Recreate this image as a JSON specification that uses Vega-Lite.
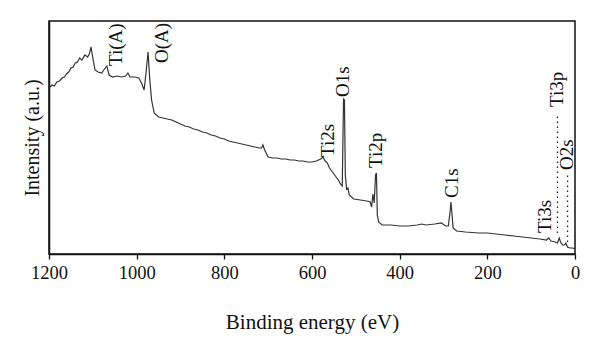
{
  "$schema": "https://vega.github.io/schema/vega-lite/v6.json",
  "width": 526,
  "height": 233,
  "autosize": {"type": "none"},
  "padding": {"left": 49, "top": 21, "right": 25, "bottom": 98},
  "background": "white",
  "view": {"stroke": "#111", "strokeWidth": 1.5},
  "config": {
    "font": "Liberation Serif",
    "axis": {"domainColor": "#111", "domainWidth": 1.5, "tickColor": "#111", "grid": false}
  },
  "datasets": {
    "spectrum": [
      {"be": 1198, "i": 167}, {"be": 1193, "i": 169}, {"be": 1188, "i": 168}, {"be": 1182, "i": 172},
      {"be": 1176, "i": 173}, {"be": 1170, "i": 176}, {"be": 1165, "i": 177}, {"be": 1160, "i": 180},
      {"be": 1155, "i": 182}, {"be": 1150, "i": 186}, {"be": 1145, "i": 187}, {"be": 1140, "i": 191},
      {"be": 1135, "i": 192}, {"be": 1130, "i": 196}, {"be": 1125, "i": 194}, {"be": 1118, "i": 199},
      {"be": 1112, "i": 197}, {"be": 1108, "i": 200}, {"be": 1104, "i": 207}, {"be": 1100, "i": 196},
      {"be": 1095, "i": 184}, {"be": 1088, "i": 182}, {"be": 1080, "i": 181}, {"be": 1075, "i": 184},
      {"be": 1068, "i": 188}, {"be": 1063, "i": 179}, {"be": 1055, "i": 177}, {"be": 1045, "i": 178},
      {"be": 1035, "i": 177}, {"be": 1025, "i": 178}, {"be": 1020, "i": 181}, {"be": 1015, "i": 177},
      {"be": 1005, "i": 177}, {"be": 995, "i": 176}, {"be": 988, "i": 170}, {"be": 983, "i": 164},
      {"be": 978, "i": 184}, {"be": 974, "i": 202}, {"be": 970, "i": 174}, {"be": 966, "i": 154},
      {"be": 960, "i": 141}, {"be": 950, "i": 137}, {"be": 940, "i": 136}, {"be": 930, "i": 135},
      {"be": 920, "i": 134}, {"be": 910, "i": 132}, {"be": 900, "i": 130}, {"be": 890, "i": 128},
      {"be": 880, "i": 127}, {"be": 870, "i": 125}, {"be": 860, "i": 124}, {"be": 850, "i": 122},
      {"be": 840, "i": 121}, {"be": 830, "i": 119}, {"be": 820, "i": 118}, {"be": 810, "i": 116},
      {"be": 800, "i": 115}, {"be": 790, "i": 113}, {"be": 780, "i": 112}, {"be": 770, "i": 111},
      {"be": 760, "i": 110}, {"be": 750, "i": 109}, {"be": 740, "i": 108}, {"be": 730, "i": 107},
      {"be": 720, "i": 106}, {"be": 715, "i": 106}, {"be": 712, "i": 109}, {"be": 708, "i": 104},
      {"be": 700, "i": 97}, {"be": 690, "i": 96}, {"be": 680, "i": 96}, {"be": 670, "i": 95},
      {"be": 660, "i": 95}, {"be": 650, "i": 94}, {"be": 640, "i": 94}, {"be": 630, "i": 93},
      {"be": 620, "i": 93}, {"be": 610, "i": 92}, {"be": 600, "i": 92}, {"be": 590, "i": 93},
      {"be": 580, "i": 95}, {"be": 575, "i": 97}, {"be": 570, "i": 93}, {"be": 565, "i": 91},
      {"be": 560, "i": 86}, {"be": 550, "i": 80}, {"be": 540, "i": 74}, {"be": 535, "i": 70},
      {"be": 531, "i": 68}, {"be": 528, "i": 155}, {"be": 526, "i": 154}, {"be": 524, "i": 79},
      {"be": 521, "i": 65}, {"be": 518, "i": 66}, {"be": 515, "i": 59}, {"be": 505, "i": 55},
      {"be": 490, "i": 54}, {"be": 475, "i": 53}, {"be": 467, "i": 52}, {"be": 464, "i": 47},
      {"be": 461, "i": 60}, {"be": 458, "i": 51}, {"be": 455, "i": 79}, {"be": 453, "i": 81},
      {"be": 451, "i": 39}, {"be": 448, "i": 32}, {"be": 440, "i": 29}, {"be": 420, "i": 29},
      {"be": 400, "i": 28}, {"be": 380, "i": 28}, {"be": 360, "i": 29}, {"be": 350, "i": 30},
      {"be": 340, "i": 29}, {"be": 320, "i": 30}, {"be": 305, "i": 31}, {"be": 295, "i": 28},
      {"be": 289, "i": 28}, {"be": 285, "i": 42}, {"be": 283, "i": 52}, {"be": 281, "i": 42},
      {"be": 278, "i": 26}, {"be": 270, "i": 23}, {"be": 250, "i": 22}, {"be": 220, "i": 21},
      {"be": 200, "i": 21}, {"be": 180, "i": 20}, {"be": 160, "i": 19}, {"be": 140, "i": 18},
      {"be": 120, "i": 17}, {"be": 100, "i": 16}, {"be": 80, "i": 15}, {"be": 65, "i": 14},
      {"be": 60, "i": 16}, {"be": 55, "i": 13}, {"be": 45, "i": 12}, {"be": 40, "i": 11},
      {"be": 36, "i": 16}, {"be": 33, "i": 12}, {"be": 28, "i": 9}, {"be": 24, "i": 9},
      {"be": 21, "i": 11}, {"be": 17, "i": 7}, {"be": 12, "i": 6}, {"be": 5, "i": 6}, {"be": 0, "i": 5}
    ],
    "guides": [
      {"be": 40, "lo": 21, "hi": 141},
      {"be": 17, "lo": 12, "hi": 81}
    ],
    "labels": [
      {"be": 1047, "i": 188, "name": "Ti(A)"},
      {"be": 942, "i": 191, "name": "O(A)"},
      {"be": 529, "i": 157, "name": "O1s"},
      {"be": 563, "i": 97, "name": "Ti2s"},
      {"be": 454, "i": 86, "name": "Ti2p"},
      {"be": 280, "i": 56, "name": "C1s"},
      {"be": 68, "i": 21, "name": "Ti3s"},
      {"be": 41, "i": 147, "name": "Ti3p"},
      {"be": 18, "i": 84, "name": "O2s"}
    ]
  },
  "layer": [
    {
      "data": {"name": "spectrum"},
      "mark": {"type": "line", "color": "#333", "strokeWidth": 1.2},
      "encoding": {
        "x": {
          "field": "be", "type": "quantitative",
          "scale": {"domain": [1200, 0], "nice": false},
          "axis": {
            "title": "Binding energy (eV)", "titleFont": "Liberation Serif", "titleFontSize": 21,
            "titleFontWeight": "normal", "titleColor": "#111", "titlePadding": 30,
            "values": [1200, 1000, 800, 600, 400, 200, 0], "format": "d",
            "labelFont": "Liberation Serif", "labelFontSize": 18.5, "labelColor": "#111",
            "labelPadding": 4, "tickSize": 5, "tickWidth": 1.3, "labelFlush": false, "labelOverlap": false
          }
        },
        "y": {
          "field": "i", "type": "quantitative",
          "scale": {"domain": [0, 233], "nice": false, "zero": false},
          "axis": {
            "title": "Intensity (a.u.)", "titleFont": "Liberation Serif", "titleFontSize": 20,
            "titleFontWeight": "normal", "titleColor": "#111", "titlePadding": 7,
            "labels": false, "ticks": false
          }
        }
      }
    },
    {
      "data": {"name": "guides"},
      "mark": {"type": "rule", "color": "#222", "strokeWidth": 1.3, "strokeDash": [1.5, 3.5]},
      "encoding": {
        "x": {"field": "be", "type": "quantitative"},
        "y": {"field": "lo", "type": "quantitative"},
        "y2": {"field": "hi"}
      }
    },
    {
      "data": {"name": "labels"},
      "mark": {"type": "text", "angle": 270, "align": "left", "baseline": "middle", "font": "Liberation Serif", "fontSize": 19, "color": "#111"},
      "encoding": {
        "x": {"field": "be", "type": "quantitative"},
        "y": {"field": "i", "type": "quantitative"},
        "text": {"field": "name"}
      }
    }
  ]
}
